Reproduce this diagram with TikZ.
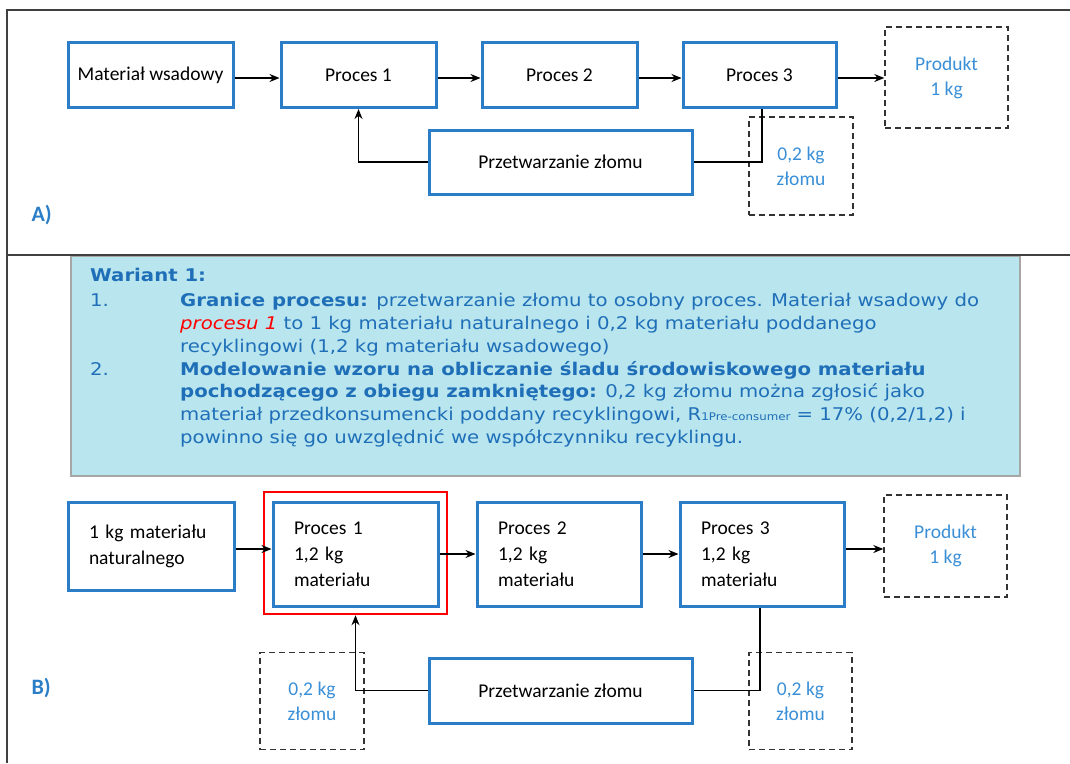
\documentclass[tikz,border=0pt]{standalone}
\usepackage{fontspec}
\setmainfont{Carlito}
\newfontfamily\verd[FakeStretch=1.125]{DejaVu Sans}
\usetikzlibrary{arrows.meta,calc}
\definecolor{boxblue}{HTML}{2A7DC6}
\definecolor{lblue}{HTML}{3A8FD6}
\definecolor{tblue}{HTML}{1F6FB8}
\definecolor{panelfill}{HTML}{B8E5EE}
\definecolor{framegray}{HTML}{404040}
\tikzset{
  pbox/.style={draw=boxblue, line width=3pt, fill=white, inner sep=0pt, font=\fontsize{19.5}{26}\selectfont},
  dbox/.style={draw=black!80, line width=1.4pt, dash pattern=on 6pt off 4pt, inner sep=0pt, align=center, text=lblue, font=\fontsize{19.5}{25}\selectfont},
  arr/.style={-{Stealth[length=10pt,width=8pt]}, line width=1.2pt},
  conn/.style={line width=1.2pt},
  lbl/.style={text=boxblue, font=\bfseries\fontsize{22}{22}\selectfont},
  vline/.style={anchor=base west, inner sep=0pt, text=tblue, font=\verd\fontsize{17.5}{20}\selectfont},
}
\begin{document}
\begin{tikzpicture}[x=1pt,y=-1pt]
\useasboundingbox (0,0) rectangle (1070,763);
% frame
\draw[framegray, line width=2pt] (1070,10) -- (7,10) -- (7,763);
\draw[framegray, line width=2pt] (7,255) -- (1070,255);
% panel
\node[draw=black!35, line width=1.5pt, fill=panelfill, minimum width=949pt, minimum height=220pt, inner sep=0pt] (panel) at (545.5,366) {};
\draw[framegray, line width=2pt] (panel.north west) -- (panel.north east);

% ---- A ----
\node[pbox, minimum width=165pt, minimum height=65pt] (mw) at (150.5,75) {Materiał wsadowy};
\node[pbox, minimum width=155pt, minimum height=65pt] (p1) at (358.5,75) {Proces 1};
\node[pbox, minimum width=155pt, minimum height=65pt] (p2) at (559.5,75) {Proces 2};
\node[pbox, minimum width=153pt, minimum height=65pt] (p3) at (759.5,75) {Proces 3};
\node[dbox, minimum width=123pt, minimum height=101pt] (prod) at (946.5,77.5) {Produkt\\1 kg};
\node[pbox, minimum width=263pt, minimum height=64pt] (pz) at (560.5,162) {Przetwarzanie złomu};
\node[dbox, minimum width=104pt, minimum height=98pt] (scrap) at (801,166) {0,2 kg\\złomu};
\node[lbl, anchor=west] (la) at (28,215) {A)};
\coordinate (ca) at (762,162);
\draw[arr] ($(mw.east)+(0,3)$) -- ($(p1.west)+(0,3)$);
\draw[arr] ($(p1.east)+(0,3)$) -- ($(p2.west)+(0,3)$);
\draw[arr] ($(p2.east)+(0,3)$) -- ($(p3.west)+(0,3)$);
\draw[arr] ($(p3.east)+(0,3)$) -- ($(p3.east -| prod.west)+(0,3)$);
\draw[conn] (p3.south -| ca) -- (ca) -- (pz.east);
\draw[arr] (pz.west) -| (p1.south);

% ---- text panel ----
\node[vline, font=\verd\bfseries\fontsize{17.5}{20}\selectfont] (w0) at (90,281) {Wariant 1:};
\node[vline] (n1) at (90,306) {1.};
\node[vline] (t1) at (180,306) {\textbf{Granice procesu:} przetwarzanie złomu to osobny proces. Materiał wsadowy do};
\node[vline] (t2) at (180,329) {{\color{red}\itshape procesu 1} to 1 kg materiału naturalnego i 0,2 kg materiału poddanego};
\node[vline] (t3) at (180,352) {recyklingowi (1,2 kg materiału wsadowego)};
\node[vline] (n2) at (90,375) {2.};
\node[vline] (t4) at (180,375) {\textbf{Modelowanie wzoru na obliczanie śladu środowiskowego materiału}};
\node[vline] (t5) at (180,397) {\textbf{pochodzącego z obiegu zamkniętego:} 0,2 kg złomu można zgłosić jako};
\node[vline] (t6) at (180,420) {materiał przedkonsumencki poddany recyklingowi, R{\fontsize{10.5}{11}\selectfont 1Pre-consumer} = 17\% (0,2/1,2) i};
\node[vline] (t7) at (180,443) {powinno się go uwzględnić we współczynniku recyklingu.};

% ---- B ----
\node[draw=red, line width=2.5pt, minimum width=183pt, minimum height=122pt, inner sep=0pt] (red) at (355.5,553) {};
\node[pbox, minimum width=166pt, minimum height=88pt, text width=124pt, align=left] (nat) at (151,546) {1 kg materiału\\naturalnego};
\node[pbox, minimum width=165pt, minimum height=104pt, text width=123pt, align=left] (q1) at (355.5,554) {Proces 1\\1,2 kg\\materiału};
\node[pbox, minimum width=164pt, minimum height=104pt, text width=122pt, align=left] (q2) at (559,554) {Proces 2\\1,2 kg\\materiału};
\node[pbox, minimum width=164pt, minimum height=104pt, text width=122pt, align=left] (q3) at (762,554) {Proces 3\\1,2 kg\\materiału};
\node[dbox, minimum width=123pt, minimum height=102pt] (prodb) at (945.5,546) {Produkt\\1 kg};
\node[pbox, minimum width=263pt, minimum height=65pt] (pzb) at (560.5,690.5) {Przetwarzanie złomu};
\node[dbox, minimum width=104pt, minimum height=97pt] (scl) at (312,701) {0,2 kg\\złomu};
\node[dbox, minimum width=103pt, minimum height=97pt] (scr) at (800.5,701) {0,2 kg\\złomu};
\node[lbl, anchor=west] (lb) at (28,688) {B)};
\coordinate (cb) at (760,690.5);
\draw[arr] ($(nat.east)+(0,3)$) -- ($(q1.west)+(0,-5)$);
\draw[arr] (q1.east) -- (q2.west);
\draw[arr] (q2.east) -- (q3.west);
\draw[arr] ($(q3.east)+(0,-5)$) -- ($(prodb.west)+(0,3)$);
\draw[conn] (q3.south -| cb) -- (cb) -- (pzb.east);
\draw[arr] (pzb.west) -| (red.south);
\end{tikzpicture}
\end{document}
